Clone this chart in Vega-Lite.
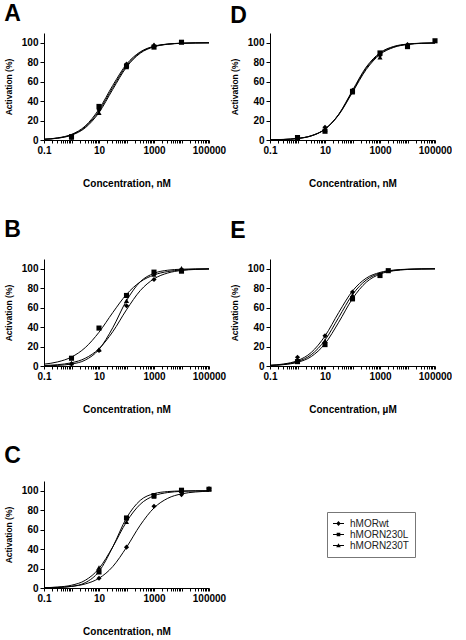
{
 "$schema": "https://vega.github.io/schema/vega-lite/v6.json",
 "padding": {"left": 4, "top": 3, "right": 0, "bottom": 0},
 "columns": 2,
 "spacing": {"row": 31, "column": 4},
 "config": {
  "view": {"stroke": null},
  "font": "Liberation Sans",
  "title": {"anchor": "start", "frame": "bounds", "fontSize": 23, "fontWeight": "bold", "font": "Liberation Sans", "color": "black"},
  "axis": {"labelFont": "Liberation Sans", "titleFont": "Liberation Sans", "labelFontWeight": "bold", "titleFontWeight": "bold", "labelFontSize": 10, "titleFontSize": 10, "labelColor": "black", "titleColor": "black", "domainColor": "black", "tickColor": "black", "grid": false, "tickSize": 3},
  "axisY": {"titleFontSize": 8.5, "tickSize": 4, "labelPadding": 2, "titlePadding": 8},
  "legend": {"strokeColor": "#777", "padding": 6, "labelFont": "Liberation Sans", "labelFontSize": 10, "labelColor": "#222", "symbolSize": 121, "rowPadding": 0, "labelOffset": 6, "symbolOpacity": 1, "symbolFillColor": "black", "symbolStrokeColor": "black", "symbolStrokeWidth": 0}
 },
 "datasets": {
  "curves": [
   {"p":"A","s":"hMORwt","x":0.1,"y":0.74},{"p":"A","s":"hMORwt","x":0.316,"y":2.0},{"p":"A","s":"hMORwt","x":1,"y":5.33},{"p":"A","s":"hMORwt","x":3.16,"y":13.4},{"p":"A","s":"hMORwt","x":10,"y":29.9},{"p":"A","s":"hMORwt","x":31.6,"y":54.0},{"p":"A","s":"hMORwt","x":100,"y":76.4},{"p":"A","s":"hMORwt","x":316,"y":89.9},{"p":"A","s":"hMORwt","x":1000,"y":96.1},{"p":"A","s":"hMORwt","x":3162,"y":98.54},{"p":"A","s":"hMORwt","x":10000,"y":99.47},{"p":"A","s":"hMORwt","x":31623,"y":99.81},{"p":"A","s":"hMORwt","x":100000,"y":99.93},
   {"p":"A","s":"hMORN230L","x":0.1,"y":0.8},{"p":"A","s":"hMORN230L","x":0.316,"y":2.17},{"p":"A","s":"hMORN230L","x":1,"y":5.76},{"p":"A","s":"hMORN230L","x":3.16,"y":14.4},{"p":"A","s":"hMORN230L","x":10,"y":31.7},{"p":"A","s":"hMORN230L","x":31.6,"y":56.1},{"p":"A","s":"hMORN230L","x":100,"y":77.9},{"p":"A","s":"hMORN230L","x":316,"y":90.6},{"p":"A","s":"hMORN230L","x":1000,"y":96.4},{"p":"A","s":"hMORN230L","x":3162,"y":98.66},{"p":"A","s":"hMORN230L","x":10000,"y":99.51},{"p":"A","s":"hMORN230L","x":31623,"y":99.82},{"p":"A","s":"hMORN230L","x":100000,"y":99.93},
   {"p":"A","s":"hMORN230T","x":0.1,"y":0.68},{"p":"A","s":"hMORN230T","x":0.316,"y":1.85},{"p":"A","s":"hMORN230T","x":1,"y":4.93},{"p":"A","s":"hMORN230T","x":3.16,"y":12.5},{"p":"A","s":"hMORN230T","x":10,"y":28.2},{"p":"A","s":"hMORN230T","x":31.6,"y":52.0},{"p":"A","s":"hMORN230T","x":100,"y":74.9},{"p":"A","s":"hMORN230T","x":316,"y":89.2},{"p":"A","s":"hMORN230T","x":1000,"y":95.8},{"p":"A","s":"hMORN230T","x":3162,"y":98.42},{"p":"A","s":"hMORN230T","x":10000,"y":99.42},{"p":"A","s":"hMORN230T","x":31623,"y":99.79},{"p":"A","s":"hMORN230T","x":100000,"y":99.92},
   {"p":"D","s":"hMORwt","x":0.1,"y":0.2},{"p":"D","s":"hMORwt","x":0.316,"y":0.56},{"p":"D","s":"hMORwt","x":1,"y":1.56},{"p":"D","s":"hMORwt","x":3.16,"y":4.28},{"p":"D","s":"hMORwt","x":10,"y":11.2},{"p":"D","s":"hMORwt","x":31.6,"y":26.2},{"p":"D","s":"hMORwt","x":100,"y":50},{"p":"D","s":"hMORwt","x":316,"y":73.8},{"p":"D","s":"hMORwt","x":1000,"y":88.8},{"p":"D","s":"hMORwt","x":3162,"y":95.7},{"p":"D","s":"hMORwt","x":10000,"y":98.44},{"p":"D","s":"hMORwt","x":31623,"y":99.44},{"p":"D","s":"hMORwt","x":100000,"y":99.8},
   {"p":"D","s":"hMORN230L","x":0.1,"y":0.18},{"p":"D","s":"hMORN230L","x":0.316,"y":0.52},{"p":"D","s":"hMORN230L","x":1,"y":1.48},{"p":"D","s":"hMORN230L","x":3.16,"y":4.16},{"p":"D","s":"hMORN230L","x":10,"y":11.1},{"p":"D","s":"hMORN230L","x":31.6,"y":26.5},{"p":"D","s":"hMORN230L","x":100,"y":51.0},{"p":"D","s":"hMORN230L","x":316,"y":75.0},{"p":"D","s":"hMORN230L","x":1000,"y":89.7},{"p":"D","s":"hMORN230L","x":3162,"y":96.2},{"p":"D","s":"hMORN230L","x":10000,"y":98.63},{"p":"D","s":"hMORN230L","x":31623,"y":99.52},{"p":"D","s":"hMORN230L","x":100000,"y":99.83},
   {"p":"D","s":"hMORN230T","x":0.1,"y":0.22},{"p":"D","s":"hMORN230T","x":0.316,"y":0.6},{"p":"D","s":"hMORN230T","x":1,"y":1.64},{"p":"D","s":"hMORN230T","x":3.16,"y":4.39},{"p":"D","s":"hMORN230T","x":10,"y":11.2},{"p":"D","s":"hMORN230T","x":31.6,"y":25.8},{"p":"D","s":"hMORN230T","x":100,"y":49.0},{"p":"D","s":"hMORN230T","x":316,"y":72.5},{"p":"D","s":"hMORN230T","x":1000,"y":87.9},{"p":"D","s":"hMORN230T","x":3162,"y":95.2},{"p":"D","s":"hMORN230T","x":10000,"y":98.22},{"p":"D","s":"hMORN230T","x":31623,"y":99.35},{"p":"D","s":"hMORN230T","x":100000,"y":99.76},
   {"p":"B","s":"hMORwt","x":0.1,"y":0.54},{"p":"B","s":"hMORwt","x":0.316,"y":1.35},{"p":"B","s":"hMORwt","x":1,"y":3.32},{"p":"B","s":"hMORwt","x":3.16,"y":7.94},{"p":"B","s":"hMORwt","x":10,"y":17.8},{"p":"B","s":"hMORwt","x":31.6,"y":35.2},{"p":"B","s":"hMORwt","x":100,"y":57.8},{"p":"B","s":"hMORwt","x":316,"y":77.5},{"p":"B","s":"hMORwt","x":1000,"y":89.6},{"p":"B","s":"hMORwt","x":3162,"y":95.6},{"p":"B","s":"hMORwt","x":10000,"y":98.2},{"p":"B","s":"hMORwt","x":31623,"y":99.27},{"p":"B","s":"hMORwt","x":100000,"y":99.71},
   {"p":"B","s":"hMORN230L","x":0.1,"y":1.9},{"p":"B","s":"hMORN230L","x":0.316,"y":4.24},{"p":"B","s":"hMORN230L","x":1,"y":9.2},{"p":"B","s":"hMORN230L","x":3.16,"y":18.9},{"p":"B","s":"hMORN230L","x":10,"y":34.7},{"p":"B","s":"hMORN230L","x":31.6,"y":54.9},{"p":"B","s":"hMORN230L","x":100,"y":73.6},{"p":"B","s":"hMORN230L","x":316,"y":86.5},{"p":"B","s":"hMORN230L","x":1000,"y":93.6},{"p":"B","s":"hMORN230L","x":3162,"y":97.11},{"p":"B","s":"hMORN230L","x":10000,"y":98.72},{"p":"B","s":"hMORN230L","x":31623,"y":99.44},{"p":"B","s":"hMORN230L","x":100000,"y":99.75},
   {"p":"B","s":"hMORN230T","x":0.1,"y":0.2},{"p":"B","s":"hMORN230T","x":0.316,"y":0.64},{"p":"B","s":"hMORN230T","x":1,"y":2.01},{"p":"B","s":"hMORN230T","x":3.16,"y":6.08},{"p":"B","s":"hMORN230T","x":10,"y":17.0},{"p":"B","s":"hMORN230T","x":31.6,"y":39.3},{"p":"B","s":"hMORN230T","x":100,"y":67.2},{"p":"B","s":"hMORN230T","x":316,"y":86.6},{"p":"B","s":"hMORN230T","x":1000,"y":95.3},{"p":"B","s":"hMORN230T","x":3162,"y":98.48},{"p":"B","s":"hMORN230T","x":10000,"y":99.51},{"p":"B","s":"hMORN230T","x":31623,"y":99.85},{"p":"B","s":"hMORN230T","x":100000,"y":99.95},
   {"p":"E","s":"hMORwt","x":0.1,"y":0.77},{"p":"E","s":"hMORwt","x":0.316,"y":2.08},{"p":"E","s":"hMORwt","x":1,"y":5.54},{"p":"E","s":"hMORwt","x":3.16,"y":13.9},{"p":"E","s":"hMORwt","x":10,"y":30.8},{"p":"E","s":"hMORwt","x":31.6,"y":55.0},{"p":"E","s":"hMORwt","x":100,"y":77.1},{"p":"E","s":"hMORwt","x":316,"y":90.3},{"p":"E","s":"hMORwt","x":1000,"y":96.2},{"p":"E","s":"hMORwt","x":3162,"y":98.6},{"p":"E","s":"hMORwt","x":10000,"y":99.49},{"p":"E","s":"hMORwt","x":31623,"y":99.81},{"p":"E","s":"hMORwt","x":100000,"y":99.93},
   {"p":"E","s":"hMORN230L","x":0.1,"y":0.51},{"p":"E","s":"hMORN230L","x":0.316,"y":1.4},{"p":"E","s":"hMORN230L","x":1,"y":3.76},{"p":"E","s":"hMORN230L","x":3.16,"y":9.7},{"p":"E","s":"hMORN230L","x":10,"y":22.9},{"p":"E","s":"hMORN230L","x":31.6,"y":45.0},{"p":"E","s":"hMORN230L","x":100,"y":69.2},{"p":"E","s":"hMORN230L","x":316,"y":86.1},{"p":"E","s":"hMORN230L","x":1000,"y":94.46},{"p":"E","s":"hMORN230L","x":3162,"y":97.92},{"p":"E","s":"hMORN230L","x":10000,"y":99.23},{"p":"E","s":"hMORN230L","x":31623,"y":99.72},{"p":"E","s":"hMORN230L","x":100000,"y":99.9},
   {"p":"E","s":"hMORN230T","x":0.1,"y":0.63},{"p":"E","s":"hMORN230T","x":0.316,"y":1.71},{"p":"E","s":"hMORN230T","x":1,"y":4.57},{"p":"E","s":"hMORN230T","x":3.16,"y":11.6},{"p":"E","s":"hMORN230T","x":10,"y":26.6},{"p":"E","s":"hMORN230T","x":31.6,"y":50},{"p":"E","s":"hMORN230T","x":100,"y":73.4},{"p":"E","s":"hMORN230T","x":316,"y":88.4},{"p":"E","s":"hMORN230T","x":1000,"y":95.4},{"p":"E","s":"hMORN230T","x":3162,"y":98.29},{"p":"E","s":"hMORN230T","x":10000,"y":99.37},{"p":"E","s":"hMORN230T","x":31623,"y":99.77},{"p":"E","s":"hMORN230T","x":100000,"y":99.92},
   {"p":"C","s":"hMORwt","x":0.1,"y":0.27},{"p":"C","s":"hMORwt","x":0.316,"y":0.67},{"p":"C","s":"hMORwt","x":1,"y":1.69},{"p":"C","s":"hMORwt","x":3.16,"y":4.19},{"p":"C","s":"hMORwt","x":10,"y":10.0},{"p":"C","s":"hMORwt","x":31.6,"y":22.0},{"p":"C","s":"hMORwt","x":100,"y":41.8},{"p":"C","s":"hMORwt","x":316,"y":64.6},{"p":"C","s":"hMORwt","x":1000,"y":82.3},{"p":"C","s":"hMORwt","x":3162,"y":92.2},{"p":"C","s":"hMORwt","x":10000,"y":96.77},{"p":"C","s":"hMORwt","x":31623,"y":98.7},{"p":"C","s":"hMORwt","x":100000,"y":99.48},
   {"p":"C","s":"hMORN230L","x":0.1,"y":0.13},{"p":"C","s":"hMORN230L","x":0.316,"y":0.46},{"p":"C","s":"hMORN230L","x":1,"y":1.6},{"p":"C","s":"hMORN230L","x":3.16,"y":5.45},{"p":"C","s":"hMORN230L","x":10,"y":17.0},{"p":"C","s":"hMORN230L","x":31.6,"y":42.1},{"p":"C","s":"hMORN230L","x":100,"y":72.0},{"p":"C","s":"hMORN230L","x":316,"y":90.1},{"p":"C","s":"hMORN230L","x":1000,"y":97.0},{"p":"C","s":"hMORN230L","x":3162,"y":99.14},{"p":"C","s":"hMORN230L","x":10000,"y":99.76},{"p":"C","s":"hMORN230L","x":31623,"y":99.93},{"p":"C","s":"hMORN230L","x":100000,"y":99.98},
   {"p":"C","s":"hMORN230T","x":0.1,"y":0.34},{"p":"C","s":"hMORN230T","x":0.316,"y":1.0},{"p":"C","s":"hMORN230T","x":1,"y":2.85},{"p":"C","s":"hMORN230T","x":3.16,"y":7.89},{"p":"C","s":"hMORN230T","x":10,"y":20.0},{"p":"C","s":"hMORN230T","x":31.6,"y":42.2},{"p":"C","s":"hMORN230T","x":100,"y":68.0},{"p":"C","s":"hMORN230T","x":316,"y":86.1},{"p":"C","s":"hMORN230T","x":1000,"y":94.8},{"p":"C","s":"hMORN230T","x":3162,"y":98.14},{"p":"C","s":"hMORN230T","x":10000,"y":99.36},{"p":"C","s":"hMORN230T","x":31623,"y":99.78},{"p":"C","s":"hMORN230T","x":100000,"y":99.92}
  ],
  "points": [
   {"p":"A","s":"hMORwt","x":1,"y":3},{"p":"A","s":"hMORwt","x":10,"y":31},{"p":"A","s":"hMORwt","x":100,"y":78},{"p":"A","s":"hMORwt","x":1000,"y":97},
   {"p":"A","s":"hMORN230L","x":1,"y":3.4},{"p":"A","s":"hMORN230L","x":10,"y":34.5},{"p":"A","s":"hMORN230L","x":100,"y":76},{"p":"A","s":"hMORN230L","x":1000,"y":95.5},{"p":"A","s":"hMORN230L","x":10000,"y":100.5},
   {"p":"A","s":"hMORN230T","x":1,"y":2.5},{"p":"A","s":"hMORN230T","x":10,"y":28},{"p":"A","s":"hMORN230T","x":100,"y":75},{"p":"A","s":"hMORN230T","x":1000,"y":98},
   {"p":"D","s":"hMORwt","x":1,"y":2},{"p":"D","s":"hMORwt","x":10,"y":13},{"p":"D","s":"hMORwt","x":100,"y":51},{"p":"D","s":"hMORwt","x":1000,"y":87},{"p":"D","s":"hMORwt","x":10000,"y":98},
   {"p":"D","s":"hMORN230L","x":1,"y":2.5},{"p":"D","s":"hMORN230L","x":10,"y":9},{"p":"D","s":"hMORN230L","x":100,"y":50},{"p":"D","s":"hMORN230L","x":1000,"y":89.5},{"p":"D","s":"hMORN230L","x":10000,"y":96},{"p":"D","s":"hMORN230L","x":100000,"y":102},
   {"p":"D","s":"hMORN230T","x":1,"y":1.5},{"p":"D","s":"hMORN230T","x":10,"y":11},{"p":"D","s":"hMORN230T","x":100,"y":49},{"p":"D","s":"hMORN230T","x":1000,"y":85},{"p":"D","s":"hMORN230T","x":10000,"y":98},
   {"p":"B","s":"hMORwt","x":1,"y":2},{"p":"B","s":"hMORwt","x":10,"y":16},{"p":"B","s":"hMORwt","x":100,"y":62},{"p":"B","s":"hMORwt","x":1000,"y":89},{"p":"B","s":"hMORwt","x":10000,"y":99},
   {"p":"B","s":"hMORN230L","x":1,"y":8},{"p":"B","s":"hMORN230L","x":10,"y":39},{"p":"B","s":"hMORN230L","x":100,"y":72.5},{"p":"B","s":"hMORN230L","x":1000,"y":96.5},{"p":"B","s":"hMORN230L","x":10000,"y":97.5},
   {"p":"B","s":"hMORN230T","x":1,"y":3},{"p":"B","s":"hMORN230T","x":10,"y":17},{"p":"B","s":"hMORN230T","x":100,"y":67},{"p":"B","s":"hMORN230T","x":1000,"y":94},{"p":"B","s":"hMORN230T","x":10000,"y":100.5},
   {"p":"E","s":"hMORwt","x":1,"y":9},{"p":"E","s":"hMORwt","x":10,"y":31},{"p":"E","s":"hMORwt","x":100,"y":76},
   {"p":"E","s":"hMORN230L","x":1,"y":4.5},{"p":"E","s":"hMORN230L","x":10,"y":22},{"p":"E","s":"hMORN230L","x":100,"y":69},{"p":"E","s":"hMORN230L","x":1000,"y":93},{"p":"E","s":"hMORN230L","x":2000,"y":98},
   {"p":"E","s":"hMORN230T","x":1,"y":6.5},{"p":"E","s":"hMORN230T","x":10,"y":26},{"p":"E","s":"hMORN230T","x":100,"y":73},
   {"p":"C","s":"hMORwt","x":10,"y":10},{"p":"C","s":"hMORwt","x":100,"y":42},{"p":"C","s":"hMORwt","x":1000,"y":84},{"p":"C","s":"hMORwt","x":10000,"y":96},{"p":"C","s":"hMORwt","x":100000,"y":102},
   {"p":"C","s":"hMORN230L","x":10,"y":16.5},{"p":"C","s":"hMORN230L","x":100,"y":72},{"p":"C","s":"hMORN230L","x":1000,"y":95},{"p":"C","s":"hMORN230L","x":10000,"y":100.5},{"p":"C","s":"hMORN230L","x":100000,"y":101.5},
   {"p":"C","s":"hMORN230T","x":10,"y":21},{"p":"C","s":"hMORN230T","x":100,"y":68},{"p":"C","s":"hMORN230T","x":1000,"y":94},{"p":"C","s":"hMORN230T","x":10000,"y":100},{"p":"C","s":"hMORN230T","x":100000,"y":102}
  ]
 },
 "concat": [
  {"width":165,"height":107,"title":{"text":"A","offset":7},
   "encoding":{
    "x":{"field":"x","type":"quantitative","scale":{"type":"log","domain":[0.1,100000]},"axis":{"title":"Concentration, nM","values":[0.1,0.2,0.3,0.4,0.5,0.6,0.7,0.8,0.9,1,2,3,4,5,6,7,8,9,10,20,30,40,50,60,70,80,90,100,200,300,400,500,600,700,800,900,1000,2000,3000,4000,5000,6000,7000,8000,9000,10000,20000,30000,40000,50000,60000,70000,80000,90000,100000],"format":"~g","labelExpr":"datum.value === 0.1 || datum.value === 10 || datum.value === 1000 || datum.value === 100000 ? datum.label : ''","labelOverlap":false,"labelFlush":false,"labelBound":false,"titlePadding":23}},
    "y":{"field":"y","type":"quantitative","scale":{"domain":[0,110],"nice":false},"axis":{"title":"Activation (%)","values":[0,20,40,60,80,100]}}},
   "layer":[
    {"data":{"name":"curves"},"transform":[{"filter":"datum.p === 'A'"}],"mark":{"type":"line","interpolate":"monotone","color":"black","strokeWidth":1},"encoding":{"detail":{"field":"s"}}},
    {"data":{"name":"points"},"transform":[{"filter":"datum.p === 'A'"}],"mark":{"type":"point","filled":true,"color":"black","size":26,"opacity":1},"encoding":{"shape":{"condition":[{"test":"datum.s === 'hMORwt'","value":"diamond"},{"test":"datum.s === 'hMORN230L'","value":"square"}],"value":"triangle-up"}}},
    {"data":{"name":"points"},"transform":[{"filter":"datum.p === 'A'"}],"mark":{"type":"point","filled":true,"fill":"black","opacity":0},"encoding":{"shape":{"field":"s","type":"nominal","scale":{"domain":["hMORwt","hMORN230L","hMORN230T"],"range":["M-1,-0.09H1V0.09H-1ZM0,-0.45L0.4,0L0,0.45L-0.4,0Z","M-1,-0.09H1V0.09H-1ZM-0.33,-0.33H0.33V0.33H-0.33Z","M-1,-0.09H1V0.09H-1ZM0,-0.42L0.42,0.33H-0.42Z"]},"legend":{"title":null,"orient":"none","legendX":283,"legendY":479}}}}
   ]},
  {"width":165,"height":107,"title":{"text":"D","offset":5},
   "encoding":{
    "x":{"field":"x","type":"quantitative","scale":{"type":"log","domain":[0.1,100000]},"axis":{"title":"Concentration, nM","values":[0.1,0.2,0.3,0.4,0.5,0.6,0.7,0.8,0.9,1,2,3,4,5,6,7,8,9,10,20,30,40,50,60,70,80,90,100,200,300,400,500,600,700,800,900,1000,2000,3000,4000,5000,6000,7000,8000,9000,10000,20000,30000,40000,50000,60000,70000,80000,90000,100000],"format":"~g","labelExpr":"datum.value === 0.1 || datum.value === 10 || datum.value === 1000 || datum.value === 100000 ? datum.label : ''","labelOverlap":false,"labelFlush":false,"labelBound":false,"titlePadding":23}},
    "y":{"field":"y","type":"quantitative","scale":{"domain":[0,110],"nice":false},"axis":{"title":"Activation (%)","values":[0,20,40,60,80,100]}}},
   "layer":[
    {"data":{"name":"curves"},"transform":[{"filter":"datum.p === 'D'"}],"mark":{"type":"line","interpolate":"monotone","color":"black","strokeWidth":1},"encoding":{"detail":{"field":"s"}}},
    {"data":{"name":"points"},"transform":[{"filter":"datum.p === 'D'"}],"mark":{"type":"point","filled":true,"color":"black","size":26,"opacity":1},"encoding":{"shape":{"condition":[{"test":"datum.s === 'hMORwt'","value":"diamond"},{"test":"datum.s === 'hMORN230L'","value":"square"}],"value":"triangle-up"}}}
   ]},
  {"width":165,"height":107,"title":{"text":"B","offset":17},
   "encoding":{
    "x":{"field":"x","type":"quantitative","scale":{"type":"log","domain":[0.1,100000]},"axis":{"title":"Concentration, nM","values":[0.1,0.2,0.3,0.4,0.5,0.6,0.7,0.8,0.9,1,2,3,4,5,6,7,8,9,10,20,30,40,50,60,70,80,90,100,200,300,400,500,600,700,800,900,1000,2000,3000,4000,5000,6000,7000,8000,9000,10000,20000,30000,40000,50000,60000,70000,80000,90000,100000],"format":"~g","labelExpr":"datum.value === 0.1 || datum.value === 10 || datum.value === 1000 || datum.value === 100000 ? datum.label : ''","labelOverlap":false,"labelFlush":false,"labelBound":false,"titlePadding":23}},
    "y":{"field":"y","type":"quantitative","scale":{"domain":[0,110],"nice":false},"axis":{"title":"Activation (%)","values":[0,20,40,60,80,100]}}},
   "layer":[
    {"data":{"name":"curves"},"transform":[{"filter":"datum.p === 'B'"}],"mark":{"type":"line","interpolate":"monotone","color":"black","strokeWidth":1},"encoding":{"detail":{"field":"s"}}},
    {"data":{"name":"points"},"transform":[{"filter":"datum.p === 'B'"}],"mark":{"type":"point","filled":true,"color":"black","size":26,"opacity":1},"encoding":{"shape":{"condition":[{"test":"datum.s === 'hMORwt'","value":"diamond"},{"test":"datum.s === 'hMORN230L'","value":"square"}],"value":"triangle-up"}}}
   ]},
  {"width":165,"height":107,"title":{"text":"E","offset":16},
   "encoding":{
    "x":{"field":"x","type":"quantitative","scale":{"type":"log","domain":[0.1,100000]},"axis":{"title":"Concentration, µM","values":[0.1,0.2,0.3,0.4,0.5,0.6,0.7,0.8,0.9,1,2,3,4,5,6,7,8,9,10,20,30,40,50,60,70,80,90,100,200,300,400,500,600,700,800,900,1000,2000,3000,4000,5000,6000,7000,8000,9000,10000,20000,30000,40000,50000,60000,70000,80000,90000,100000],"format":"~g","labelExpr":"datum.value === 0.1 || datum.value === 10 || datum.value === 1000 || datum.value === 100000 ? datum.label : ''","labelOverlap":false,"labelFlush":false,"labelBound":false,"titlePadding":23}},
    "y":{"field":"y","type":"quantitative","scale":{"domain":[0,110],"nice":false},"axis":{"title":"Activation (%)","values":[0,20,40,60,80,100]}}},
   "layer":[
    {"data":{"name":"curves"},"transform":[{"filter":"datum.p === 'E'"}],"mark":{"type":"line","interpolate":"monotone","color":"black","strokeWidth":1},"encoding":{"detail":{"field":"s"}}},
    {"data":{"name":"points"},"transform":[{"filter":"datum.p === 'E'"}],"mark":{"type":"point","filled":true,"color":"black","size":26,"opacity":1},"encoding":{"shape":{"condition":[{"test":"datum.s === 'hMORwt'","value":"diamond"},{"test":"datum.s === 'hMORN230L'","value":"square"}],"value":"triangle-up"}}}
   ]},
  {"width":165,"height":107,"title":{"text":"C","offset":13},
   "encoding":{
    "x":{"field":"x","type":"quantitative","scale":{"type":"log","domain":[0.1,100000]},"axis":{"title":"Concentration, nM","values":[0.1,0.2,0.3,0.4,0.5,0.6,0.7,0.8,0.9,1,2,3,4,5,6,7,8,9,10,20,30,40,50,60,70,80,90,100,200,300,400,500,600,700,800,900,1000,2000,3000,4000,5000,6000,7000,8000,9000,10000,20000,30000,40000,50000,60000,70000,80000,90000,100000],"format":"~g","labelExpr":"datum.value === 0.1 || datum.value === 10 || datum.value === 1000 || datum.value === 100000 ? datum.label : ''","labelOverlap":false,"labelFlush":false,"labelBound":false,"titlePadding":23}},
    "y":{"field":"y","type":"quantitative","scale":{"domain":[0,110],"nice":false},"axis":{"title":"Activation (%)","values":[0,20,40,60,80,100]}}},
   "layer":[
    {"data":{"name":"curves"},"transform":[{"filter":"datum.p === 'C'"}],"mark":{"type":"line","interpolate":"monotone","color":"black","strokeWidth":1},"encoding":{"detail":{"field":"s"}}},
    {"data":{"name":"points"},"transform":[{"filter":"datum.p === 'C'"}],"mark":{"type":"point","filled":true,"color":"black","size":26,"opacity":1},"encoding":{"shape":{"condition":[{"test":"datum.s === 'hMORwt'","value":"diamond"},{"test":"datum.s === 'hMORN230L'","value":"square"}],"value":"triangle-up"}}}
   ]}
 ]
}
